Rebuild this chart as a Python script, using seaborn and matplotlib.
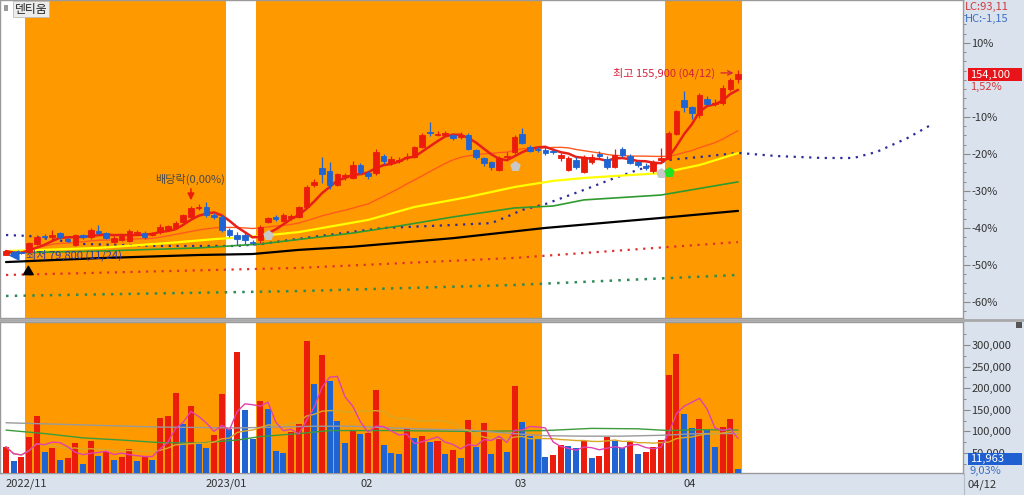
import numpy as np
import pandas as pd
import matplotlib
matplotlib.use("Agg")
import matplotlib.pyplot as plt
import matplotlib.transforms as mtransforms
from matplotlib.patches import Rectangle
from matplotlib.lines import Line2D
import seaborn as sns

sns.set_style("white")
plt.rcParams['font.family'] = ['Noto Sans CJK KR', 'DejaVu Sans']

# daily candles, 2022/11/24 .. 2023/04/12
opens = [80000, 81200, 81200, 81200, 84500, 87800, 87400, 89000, 86600, 84100,
         88200, 87400, 89800, 89000, 85300, 86200, 85700, 89000, 89000, 88200,
         89400, 90300, 91100, 93500, 95600, 99300, 99700, 96400, 95600, 90300,
         88200, 88200, 85300, 86200, 93500, 95600, 93900, 95200, 95600, 99700,
         108700, 115700, 114500, 108700, 112000, 111600, 116900, 113600, 113600, 120600,
         117700, 118600, 119800, 120200, 124300, 130500, 129200, 129200, 129200, 128400,
         129200, 123100, 119800, 118200, 114900, 120200, 122300, 129600, 124300, 123500,
         123100, 122700, 119800, 114900, 118900, 114000, 118100, 121400, 119400, 116100,
         123500, 120600, 118200, 116500, 114500, 118900, 119400, 129600, 143600, 140700,
         137400, 144000, 142000, 142400, 148100, 152300]
closes = [81600, 80400, 80800, 84900, 87400, 87400, 88200, 87400, 85700, 88200,
          87400, 90300, 89000, 87000, 87000, 87800, 89800, 89400, 87400, 89000,
          91500, 91900, 93100, 96400, 99300, 99700, 96400, 95600, 90300, 88200,
          86600, 86200, 84900, 91500, 95200, 94800, 96400, 96000, 99700, 107900,
          109900, 113200, 108700, 113200, 112800, 116900, 114100, 112400, 122300, 118600,
          119400, 119000, 120200, 124300, 129200, 130100, 129600, 130100, 128000, 128800,
          123500, 120200, 117700, 116100, 119800, 120600, 128400, 126000, 122700, 123100,
          121800, 122300, 121000, 119800, 116100, 120200, 120200, 120600, 116100, 121000,
          121000, 117700, 116900, 115700, 118200, 119800, 130100, 139100, 140700, 138300,
          145600, 142000, 142400, 148500, 151800, 154100]
highs = [82000, 81600, 81600, 85300, 88200, 88600, 90300, 89400, 87000, 88600,
         88600, 91100, 92300, 89400, 87800, 88600, 90700, 90300, 89800, 89400,
         92700, 92300, 93900, 96800, 100100, 100900, 101700, 97200, 96400, 91100,
         89400, 89000, 86200, 92300, 95600, 96400, 97200, 96800, 100100, 108700,
         111200, 120200, 118200, 113600, 113600, 118600, 117700, 114500, 123500, 121400,
         120600, 120200, 121900, 124700, 130100, 134600, 130900, 130900, 130100, 130500,
         130100, 123500, 120200, 118600, 120600, 122300, 129200, 132100, 125100, 124300,
         124300, 123900, 121800, 120600, 120200, 121000, 121400, 122700, 120600, 123500,
         124300, 121400, 118600, 117700, 118900, 123900, 130900, 139500, 147300, 141200,
         146400, 145200, 144000, 149800, 152700, 155900]
lows = [79900, 79800, 80400, 80800, 84100, 86600, 86600, 86600, 85300, 83700,
        86600, 86600, 88600, 86600, 84900, 85700, 85300, 88200, 86600, 87800,
        88600, 89800, 90700, 93100, 94800, 98400, 95600, 94800, 89400, 87400,
        84100, 84500, 84100, 84900, 93100, 93900, 93500, 94300, 95200, 99300,
        107900, 109500, 107000, 108300, 110800, 111200, 113200, 111200, 112800, 117300,
        116900, 117700, 119000, 119800, 123900, 128800, 128800, 128800, 127200, 127600,
        123100, 119400, 116500, 114900, 114500, 119800, 121400, 125500, 122300, 122300,
        121000, 121400, 118600, 114500, 115300, 113600, 117300, 119800, 115300, 115700,
        120200, 117300, 116100, 114900, 113600, 118100, 118900, 129200, 138700, 135800,
        136200, 141200, 141200, 141600, 147300, 150600]
volumes = [64600, 32000, 40000, 86000, 136000, 51600, 62000, 34000, 39000, 72000,
           24000, 78000, 43000, 53000, 34000, 41000, 59000, 32000, 43000, 34000,
           130000, 136000, 190000, 116000, 159000, 72000, 61000, 92000, 187000, 105000,
           285000, 150000, 82000, 170000, 152000, 55000, 49000, 98000, 116000, 309000,
           209000, 277000, 217000, 125000, 72000, 101000, 95000, 97000, 196000, 68000,
           49000, 48000, 109000, 85000, 89000, 76000, 78000, 48000, 58000, 38000,
           126000, 63000, 120000, 48000, 88000, 52000, 206000, 122000, 89000, 82000,
           41000, 45000, 68000, 67000, 61000, 78000, 38000, 43000, 86000, 78000,
           61000, 75000, 48000, 52000, 63000, 80000, 230000, 279000, 140000, 107000,
           128000, 103000, 63000, 110000, 129000, 11963]

# long moving averages (sampled at bar index)
ma60_idx = [0, 12, 21, 27, 33, 38, 47, 53, 60, 66, 71, 75, 85, 90, 95]
ma60_val = [81600, 82900, 84900, 86500, 87800, 89400, 94400, 99700, 103800, 107900,
            110400, 111600, 113600, 116900, 121800]
ma120_idx = [0, 12, 25, 33, 45, 51, 58, 66, 71, 75, 85, 95]
ma120_val = [80800, 81600, 82900, 84500, 89000, 91900, 95600, 99300, 100100, 102600,
             104600, 110000]
ma240_idx = [0, 12, 25, 32, 38, 45, 58, 70, 85, 95]
ma240_val = [77100, 78700, 80000, 80400, 82100, 83400, 86900, 91100, 95200, 98100]

# dotted lines
navy_idx = [0, 3, 10, 20, 30, 33, 40, 49, 58, 63, 65, 67, 70, 75, 79, 82, 86, 90, 95,
            100, 106, 110, 113, 117, 120]
navy_val = [88200, 87800, 84500, 83700, 83700, 84500, 87500, 91100, 92300, 93100,
            95700, 98500, 100900, 106700, 111600, 114900, 119000, 120200, 121900,
            120600, 119800, 119800, 122300, 128000, 133300]
reddot_idx = [0, 38, 66, 95]
reddot_val = [71800, 74700, 78800, 85300]
greendot_idx = [0, 38, 66, 95]
greendot_val = [63200, 65200, 67700, 71800]

# volume moving averages (sampled)
vma60_idx = [0, 10, 20, 30, 35, 40, 45, 50, 55, 60, 65, 70, 75, 80, 85, 90, 95]
vma60_val = [120000, 115000, 110000, 108000, 110000, 112000, 112000, 108000, 105000,
             103000, 96000, 90000, 89000, 89000, 91000, 95000, 95000]
vma120_idx = [0, 5, 10, 15, 20, 25, 30, 33, 38, 42, 50, 60, 70, 76, 82, 86, 90, 95]
vma120_val = [103000, 95000, 85000, 80000, 74000, 73000, 80000, 88000, 95000, 102000,
              102000, 100000, 102000, 107000, 106000, 102000, 104000, 103000]

month_pos = [0, 26, 46, 66, 88]
month_labels = ['2022/11', '2023/01', '02', '03', '04']
shade_ranges = [(2.5, 28.5), (32.5, 69.5), (85.5, 95.5)]
prev_close = 151800
pct_ticks = [10, -10, -20, -30, -40, -50, -60]
vol_ticks = [50000, 100000, 150000, 200000, 250000, 300000]

W, H = 1024, 495
RED = '#ec1c0c'
BLUE = '#1f64d2'
ORANGE = '#ff9900'
PANEL = '#dae2ee'


def fx(px):
    return px / W


def fy(py):
    return 1 - py / H


df = pd.DataFrame({'open': opens, 'high': highs, 'low': lows, 'close': closes,
                   'volume': volumes})
df['x'] = np.arange(len(df))
df['ma5'] = df['close'].rolling(5, min_periods=1).mean()
df['ma20'] = df['close'].rolling(20, min_periods=1).mean()
df['vma5'] = df['volume'].rolling(5, min_periods=1).mean()
df['vma20'] = df['volume'].rolling(20, min_periods=1).mean()
candle_col = np.where(df['close'] >= df['open'], RED, BLUE)
vol_col = np.where(df['volume'].diff().fillna(1) > 0, RED, BLUE)

fig = plt.figure(figsize=(W / 100, H / 100), dpi=100)
fig.patch.set_facecolor('white')
fig.patches.append(Rectangle((fx(963), 0), fx(61), 1, transform=fig.transFigure,
                             fc=PANEL, ec='none', zorder=-1))
fig.patches.append(Rectangle((0, 0), 1, 22 / H, transform=fig.transFigure,
                             fc=PANEL, ec='none', zorder=-1))

ax_p = fig.add_axes([0, fy(318), fx(963), 318 / H])
ax_v = fig.add_axes([0, fy(473), fx(963), 151 / H])

for ax in (ax_p, ax_v):
    for a, b in shade_ranges:
        ax.axvspan(a, b, color=ORANGE, lw=0, zorder=0)
    ax.set_xlim(-0.78, 124.2)
    for s in ax.spines.values():
        s.set_color('#9a9a9a')
        s.set_linewidth(1)

# ---- price panel ----
ax_p.set_ylim(54150, 184620)
dot = (0, (1, 2.5))
ax_p.plot(navy_idx, navy_val, color='#2b2b9b', lw=1.6, ls=dot, zorder=2)
ax_p.plot(reddot_idx, reddot_val, color='#e03030', lw=1.6, ls=dot, zorder=2)
ax_p.plot(greendot_idx, greendot_val, color='#2e8b57', lw=1.8, ls=dot, zorder=2)

sns.lineplot(x=ma240_idx, y=ma240_val, ax=ax_p, color='black', lw=1.6, zorder=3)
sns.lineplot(x=ma120_idx, y=ma120_val, ax=ax_p, color='#2f9a2f', lw=1.2, zorder=3)
sns.lineplot(x=ma60_idx, y=ma60_val, ax=ax_p, color='#ffff00', lw=1.6, zorder=3)
sns.lineplot(data=df, x='x', y='ma20', ax=ax_p, color='#ff5a1e', lw=1.0, zorder=3)
sns.lineplot(data=df, x='x', y='ma5', ax=ax_p, color='#e8201a', lw=1.8, zorder=3)

ax_p.vlines(df['x'], df['low'], df['high'], colors=candle_col, lw=0.9, zorder=4)
ax_p.bar(df['x'], (df['close'] - df['open']).abs(),
         bottom=np.minimum(df['open'], df['close']), width=0.72,
         color=candle_col, edgecolor=candle_col, lw=0.6, zorder=5)

ax_p.scatter([34, 66, 85], [88200, 116500, 113600], marker='p', s=45,
             c='#c8c8c8', zorder=6)
ax_p.scatter([86], [114000], marker='p', s=45, c='#22e022', zorder=6)
ax_p.scatter([1.0], [79800], marker='<', s=40, c=BLUE, zorder=6)
ax_p.annotate('', xy=(2.9, 76500), xytext=(2.9, 72800),
              arrowprops=dict(arrowstyle='simple,head_width=0.7,head_length=0.6,tail_width=0.3',
                              color='black'), zorder=6)

ax_p.text(2.6, 79800, '최저 79,800 (11/24)', va='center', ha='left',
          color='#36389a', fontsize=8, zorder=3)
ax_p.text(23.9, 111200, '배당락(0,00%)', va='center', ha='center',
          color='#4a4a4a', fontsize=8, zorder=6)
ax_p.annotate('', xy=(24, 101300), xytext=(24, 108300),
              arrowprops=dict(arrowstyle='-|>', color=RED, lw=1.1,
                              mutation_scale=10), zorder=6)
ax_p.annotate('최고 155,900 (04/12)', xy=(94.4, 154700), xytext=(92.0, 154700),
              ha='right', va='center', color='#d4213d', fontsize=8,
              arrowprops=dict(arrowstyle='->', color='#d4213d', lw=0.9,
                              shrinkA=2, shrinkB=0), zorder=6)

ax_p.yaxis.tick_right()
ax_p.set_yticks([prev_close * (1 + p / 100) for p in pct_ticks],
                [f'{p}%' for p in pct_ticks])
minor_pct = [p for p in np.arange(-62.5, 20, 2.5) if p not in pct_ticks]
ax_p.set_yticks([prev_close * (1 + p / 100) for p in minor_pct], minor=True)
ax_p.tick_params(axis='y', which='major', direction='out', length=5, width=0.8,
                 color='#8a8a8a', labelsize=8, labelcolor='#333333', pad=1)
ax_p.tick_params(axis='y', which='minor', direction='out', length=2.5, width=0.7,
                 color='#8a8a8a')
ax_p.tick_params(axis='x', bottom=False, labelbottom=False)
ax_p.set_xlabel('')
ax_p.set_ylabel('')

# ---- volume panel ----
ax_v.set_ylim(3700, 353300)
ax_v.bar(df['x'], df['volume'], width=0.78, color=vol_col, lw=0, zorder=3)
sns.lineplot(x=vma120_idx, y=vma120_val, ax=ax_v, color='#3c9c3c', lw=1.0, zorder=4)
sns.lineplot(x=vma60_idx, y=vma60_val, ax=ax_v, color='#9a9a9a', lw=1.0, zorder=4)
sns.lineplot(data=df, x='x', y='vma20', ax=ax_v, color='#d8a828', lw=1.0, zorder=4)
sns.lineplot(data=df, x='x', y='vma5', ax=ax_v, color='#e040b0', lw=1.0, zorder=4)

ax_v.yaxis.tick_right()
ax_v.set_yticks(vol_ticks, [f'{v:,}' for v in vol_ticks])
ax_v.set_yticks([v - 25000 for v in vol_ticks] + [325000], minor=True)
ax_v.tick_params(axis='y', which='major', direction='out', length=5, width=0.8,
                 color='#8a8a8a', labelsize=8, labelcolor='#333333', pad=1)
ax_v.tick_params(axis='y', which='minor', direction='out', length=2.5, width=0.7,
                 color='#8a8a8a')
ax_v.set_xticks([p - 0.4 for p in month_pos], month_labels, ha='left')
ax_v.tick_params(axis='x', direction='out', length=16, width=0.8, color='#b4bcc8',
                 labelsize=8, labelcolor='#333333', pad=-12)
shift = mtransforms.ScaledTranslation(2 / 72, 0, fig.dpi_scale_trans)
for lab in ax_v.get_xticklabels():
    lab.set_transform(lab.get_transform() + shift)
ax_v.set_xlabel('')
ax_v.set_ylabel('')

# ---- frame decorations ----
fig.add_artist(Line2D([0, 1], [fy(320), fy(320)], color='#a8a8a8', lw=2))
fig.patches.append(Rectangle((fx(4), fy(11)), fx(4), 6 / H, transform=fig.transFigure,
                             fc='#9a9a9a', ec='none'))
fig.text(fx(15), fy(9), '덴티움', fontsize=8.5, va='center', ha='left', color='#222222',
         bbox=dict(boxstyle='square,pad=0.15', fc='#ececec', ec='#bdbdbd', lw=0.6))
fig.text(fx(965), fy(7), 'LC:93,11', fontsize=8, va='center', color='#d23a3a')
fig.text(fx(965), fy(19), 'HC:-1,15', fontsize=8, va='center', color='#3b6fc4')

fig.patches.append(Rectangle((fx(968), fy(80.5)), fx(54), 12 / H,
                             transform=fig.transFigure, fc='#e8141a', ec='none'))
fig.text(fx(970), fy(74.5), '154,100', fontsize=8, va='center', color='white')
fig.text(fx(970), fy(87), '1,52%', fontsize=8, va='center', color='#d23a3a')

fig.patches.append(Rectangle((fx(968), fy(465)), fx(54), 12 / H,
                             transform=fig.transFigure, fc='#1f5fd0', ec='none'))
fig.text(fx(970), fy(459), '11,963', fontsize=8, va='center', color='white')
fig.text(fx(970), fy(470.5), '9,03%', fontsize=8, va='center', color='#3b6fc4')
fig.patches.append(Rectangle((fx(1016), fy(328)), fx(6), 6 / H, transform=fig.transFigure,
                             fc='#555555', ec='none'))
fig.add_artist(Line2D([fx(964), fx(964)], [0, 22 / H], color='#b4bcc8', lw=0.8))
fig.text(fx(968), fy(485), '04/12', fontsize=8, va='center', color='#333333')

fig.savefig('out.png', dpi=100)
